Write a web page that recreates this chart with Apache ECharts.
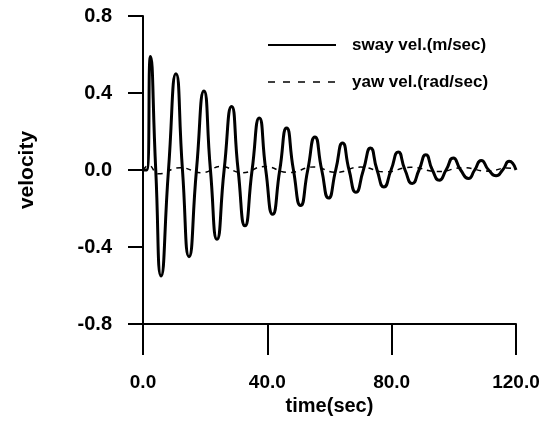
<!DOCTYPE html>
<html>
<head>
<meta charset="utf-8">
<script src="https://cdn.jsdelivr.net/npm/echarts@6/dist/echarts.min.js"></script>
<style>
html,body{margin:0;padding:0;background:#fff;}
#c{width:554px;height:423px;}
</style>
</head>
<body>
<div id="c"></div>
<script>
// time (sec) and velocity values
var swayT = [0, 1.2, 2.4, 4.1, 5.8, 8.2, 10.6, 12.7, 14.8, 17.2, 19.6, 21.7, 23.8, 26.1, 28.5, 30.6, 32.8, 35.1, 37.4, 39.5, 41.7, 44.0, 46.2, 48.4, 50.7, 53.0, 55.3, 57.5, 59.7, 62.0, 64.2, 66.3, 68.5, 70.9, 73.2, 75.3, 77.5, 79.8, 82.1, 84.3, 86.6, 88.8, 91.0, 93.1, 95.3, 97.5, 99.8, 102.2, 104.7, 106.7, 108.8, 111.2, 113.6, 115.7, 117.8, 120];
var swayV = [0, 0.0, 0.59, 0.0, -0.55, 0.0, 0.50, 0.0, -0.45, 0.0, 0.41, 0.0, -0.36, 0.0, 0.33, 0.0, -0.29, 0.0, 0.27, 0.0, -0.23, 0.0, 0.218, 0.0, -0.185, 0.0, 0.172, 0.0, -0.146, 0.0, 0.140, 0.0, -0.116, 0.0, 0.114, 0.0, -0.088, 0.0, 0.093, 0.0, -0.070, 0.0, 0.079, 0.0, -0.053, 0.0, 0.062, 0.0, -0.044, 0.0, 0.050, 0.0, -0.030, 0.0, 0.045, 0.0];
var yawT = [0, 1.8, 5.0, 12.0, 19.0, 25.0, 32.0, 39.0, 47.0, 55.0, 62.0, 70.0, 78.0, 86.0, 95.0, 103.0, 111.0, 117.0, 120];
var yawV = [0, 0.024, -0.020, 0.012, -0.014, 0.018, -0.014, 0.018, -0.013, 0.016, -0.012, 0.015, -0.010, 0.014, -0.008, 0.012, -0.006, 0.010, 0.004];
var seriesNames = ['sway vel.(m/sec)', 'yaw vel.(rad/sec)'];
var xTicks = [0, 40, 80, 120];
var yTicks = [-0.8, -0.4, 0.0, 0.4, 0.8];
var xTitle = 'time(sec)';
var yTitle = 'velocity';

function pairs(t, v) { return t.map(function (x, i) { return [x, v[i]]; }); }

var font = '"Liberation Sans", Arial, sans-serif';
var chart = echarts.init(document.getElementById('c'), null, {renderer: 'canvas'});
chart.setOption({
  animation: false,
  backgroundColor: '#fff',
  grid: {left: 143, right: 38, top: 16, bottom: 99, containLabel: false},
  legend: {
    orient: 'vertical', left: 262, top: 30,
    itemWidth: 68, itemHeight: 14, itemGap: 17,
    textStyle: {fontFamily: font, fontWeight: 'bold', fontSize: 17, color: '#000', padding: [0, 0, 0, 11], lineHeight: 20},
    data: [
      {name: seriesNames[0], itemStyle: {opacity: 0}, lineStyle: {width: 2, type: 'solid', color: '#000'}},
      {name: seriesNames[1], itemStyle: {opacity: 0}, lineStyle: {width: 1.5, type: [7, 8], color: '#000'}}
    ]
  },
  xAxis: {
    type: 'value', min: xTicks[0], max: xTicks[xTicks.length - 1], interval: 40,
    name: xTitle, nameLocation: 'middle', nameGap: 70,
    nameTextStyle: {fontFamily: font, fontWeight: 'bold', fontSize: 20, color: '#000'},
    axisLine: {show: true, onZero: false, lineStyle: {color: '#000', width: 2}},
    axisTick: {show: true, inside: false, length: 31, lineStyle: {color: '#000', width: 2}},
    axisLabel: {margin: 49, fontFamily: font, fontWeight: 'bold', fontSize: 19, color: '#000',
      formatter: function (v) { return v.toFixed(1); }},
    splitLine: {show: false}
  },
  yAxis: {
    type: 'value', min: yTicks[0], max: yTicks[yTicks.length - 1], interval: 0.4,
    name: yTitle, nameLocation: 'middle', nameGap: 105, nameRotate: 90,
    nameTextStyle: {fontFamily: font, fontWeight: 'bold', fontSize: 21, color: '#000'},
    axisLine: {show: true, onZero: false, lineStyle: {color: '#000', width: 2}},
    axisTick: {show: true, inside: false, length: 15, lineStyle: {color: '#000', width: 2}},
    axisLabel: {margin: 31, fontFamily: font, fontWeight: 'bold', fontSize: 20, color: '#000',
      formatter: function (v) { return (Math.abs(v) < 1e-9 ? 0 : v).toFixed(1); }},
    splitLine: {show: false}
  },
  series: [
    {name: seriesNames[0], type: 'line', data: pairs(swayT, swayV), symbol: 'none', smooth: 0.6,
      lineStyle: {color: '#000', width: 3}, itemStyle: {color: '#000'}},
    {name: seriesNames[1], type: 'line', data: pairs(yawT, yawV), symbol: 'none', smooth: 0.5,
      lineStyle: {color: '#000', width: 1.5, type: [5, 5]}, itemStyle: {color: '#000'}}
  ]
});
</script>
</body>
</html>
